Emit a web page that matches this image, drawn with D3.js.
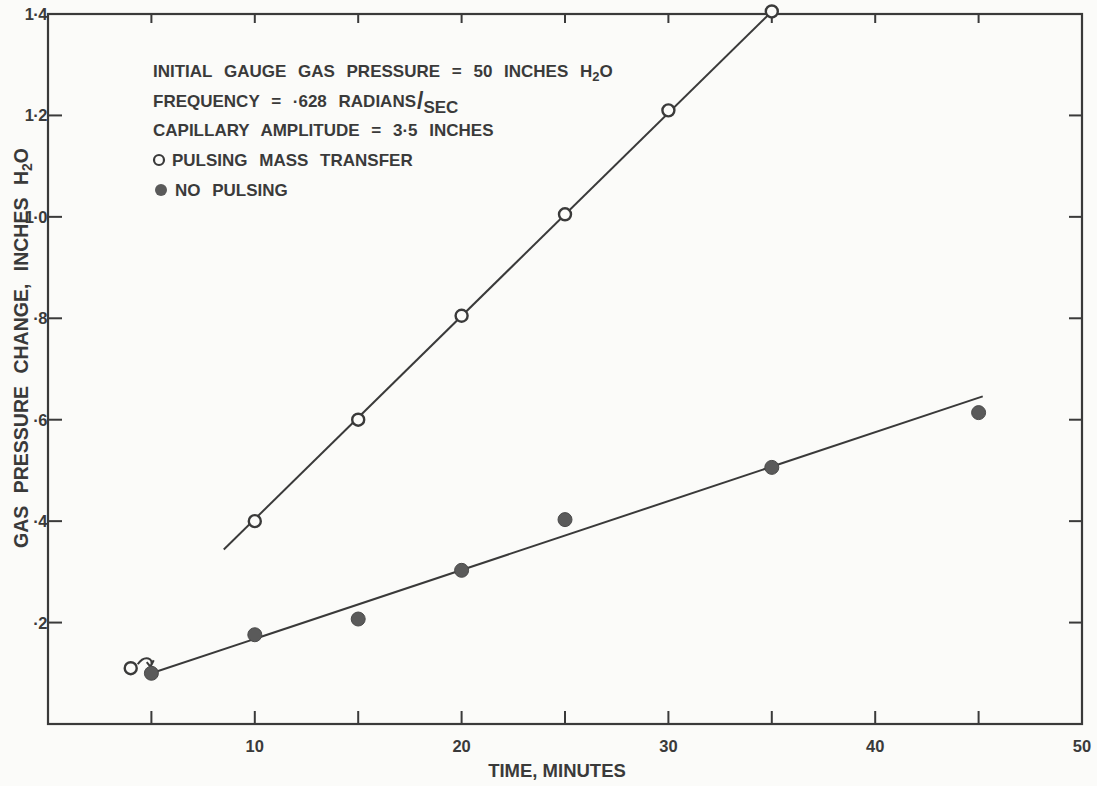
<!DOCTYPE html>
<html lang="en">
<head>
    <meta charset="UTF-8">
    <title>Gas pressure change vs time</title>
    <script src="https://d3js.org/d3.v7.min.js"></script>
    <style>
        body { margin: 0; background: #fbfbf9; }
        svg { display: block; }
        text {
            font-family: "Liberation Sans", Arial, sans-serif;
            font-weight: bold;
            fill: #3a3a3a;
        }
        .frame { fill: none; stroke: #3a3a3a; stroke-width: 2.2px; }
        .tick { stroke: #3a3a3a; stroke-width: 2px; }
        .fit { fill: none; stroke: #3a3a3a; stroke-width: 2px; }
    </style>
</head>
<body>
<svg width="1097" height="786"></svg>
<script>
    // pulsing mass transfer (open circles)
    const pulseTime = [10, 15, 20, 25, 30, 35];
    const pulseDp = [0.40, 0.60, 0.805, 1.005, 1.21, 1.405];
    const pulseFit = [[8.5, 0.344], [35, 1.405]];
    // stray open point near start
    const strayPoint = [4.0, 0.11];

    // no pulsing (filled circles)
    const noPulseTime = [5, 10, 15, 20, 25, 35, 45];
    const noPulseDp = [0.10, 0.176, 0.207, 0.303, 0.403, 0.506, 0.614];
    const noPulseFit = [[5, 0.10], [45.2, 0.646]];

    const xTicks = [10, 20, 30, 40, 50];
    const xMinor = [5, 10, 15, 20, 25, 30, 35, 40, 45];
    const yTicks = [0.2, 0.4, 0.6, 0.8, 1.0, 1.2, 1.4];
    const yLabels = ["·2", "·4", "·6", "·8", "1·0", "1·2", "1·4"];

    const notes = [
        "INITIAL  GAUGE  GAS  PRESSURE = 50 INCHES  H",
        "FREQUENCY = ·628  RADIANS",
        "CAPILLARY  AMPLITUDE = 3·5  INCHES",
        "PULSING   MASS   TRANSFER",
        "NO  PULSING"
    ];

    const svg = d3.select("svg");
    const mLeft = 48, mRight = 1082, mTop = 14, mBottom = 724;

    const x = d3.scaleLinear().domain([0, 50]).range([mLeft, mRight]);
    const y = d3.scaleLinear().domain([0, 1.4]).range([mBottom, mTop]);

    // frame
    svg.append("rect").attr("class", "frame")
        .attr("x", mLeft).attr("y", mTop)
        .attr("width", mRight - mLeft).attr("height", mBottom - mTop);

    // bottom ticks (inward)
    svg.append("g").selectAll("line").data(xMinor).enter().append("line")
        .attr("class", "tick")
        .attr("x1", d => x(d)).attr("x2", d => x(d))
        .attr("y1", mBottom).attr("y2", mBottom - 13);
    // top ticks
    svg.append("g").selectAll("line").data(xMinor).enter().append("line")
        .attr("class", "tick")
        .attr("x1", d => x(d)).attr("x2", d => x(d))
        .attr("y1", mTop).attr("y2", mTop + 9);
    // left ticks
    svg.append("g").selectAll("line").data(yTicks.slice(0, 6)).enter().append("line")
        .attr("class", "tick")
        .attr("x1", mLeft).attr("x2", mLeft + 14)
        .attr("y1", d => y(d)).attr("y2", d => y(d));
    // right ticks
    svg.append("g").selectAll("line").data(yTicks.slice(0, 6)).enter().append("line")
        .attr("class", "tick")
        .attr("x1", mRight).attr("x2", mRight - 13)
        .attr("y1", d => y(d)).attr("y2", d => y(d));

    // tick labels
    svg.append("g").selectAll("text").data(xTicks).enter().append("text")
        .attr("x", d => x(d)).attr("y", mBottom + 28)
        .attr("text-anchor", "middle").attr("font-size", 16.5)
        .text(d => d);
    svg.append("g").selectAll("text").data(yTicks).enter().append("text")
        .attr("x", mLeft - 1).attr("y", d => y(d) + 6)
        .attr("text-anchor", "end").attr("font-size", 16.5)
        .attr("letter-spacing", "-0.5")
        .text((d, i) => yLabels[i]);

    // axis titles
    svg.append("text")
        .attr("x", 557).attr("y", 777)
        .attr("text-anchor", "middle").attr("font-size", 18.5)
        .text("TIME, MINUTES");

    const yt = svg.append("text")
        .attr("transform", "translate(28,348) rotate(-90)")
        .attr("text-anchor", "middle").attr("font-size", 19.5)
        .attr("word-spacing", "7");
    yt.append("tspan").text("GAS PRESSURE CHANGE, INCHES H");
    yt.append("tspan").attr("font-size", 14).attr("dy", 4).text("2");
    yt.append("tspan").attr("dy", -4).text("O");

    // fitted lines
    const line = d3.line().x(d => x(d[0])).y(d => y(d[1]));
    svg.append("path").attr("class", "fit").attr("d", line(pulseFit));
    svg.append("path").attr("class", "fit").attr("d", line(noPulseFit));

    // hand-drawn squiggle near the stray point
    const sx = x(strayPoint[0]), sy = y(strayPoint[1]);
    svg.append("path")
        .attr("fill", "none").attr("stroke", "#3a3a3a").attr("stroke-width", 2)
        .attr("d", `M${sx + 7},${sy - 4}
                    C${sx + 14},${sy - 14} ${sx + 24},${sy - 10} ${sx + 20},${sy - 2}
                    M${sx + 16},${sy - 6} L${sx + 24},${sy + 4}
                    M${sx + 23},${sy - 8} L${sx + 18},${sy + 2}`);

    // points
    const pulse = pulseTime.map((t, i) => [t, pulseDp[i]]);
    pulse.push(strayPoint);
    svg.append("g").selectAll("circle").data(pulse).enter().append("circle")
        .attr("cx", d => x(d[0])).attr("cy", d => y(d[1])).attr("r", 6)
        .attr("fill", "#fbfbf9").attr("stroke", "#3a3a3a").attr("stroke-width", 2.4);

    const noPulse = noPulseTime.map((t, i) => [t, noPulseDp[i]]);
    svg.append("g").selectAll("circle").data(noPulse).enter().append("circle")
        .attr("cx", d => x(d[0])).attr("cy", d => y(d[1])).attr("r", 7)
        .attr("fill", "#5a5a5a").attr("stroke", "#4a4a4a").attr("stroke-width", 1);

    // notes block
    const note = svg.append("g").attr("font-size", 17).attr("word-spacing", "7");
    const rowY = [77, 107, 136, 166, 196];
    const t0 = note.append("text").attr("x", 153).attr("y", rowY[0]);
    t0.append("tspan").text(notes[0]);
    t0.append("tspan").attr("font-size", 13).attr("dy", 4).text("2");
    t0.append("tspan").attr("dy", -4).text("O");

    const t1 = note.append("text").attr("x", 153).attr("y", rowY[1]);
    t1.append("tspan").text(notes[1]);
    t1.append("tspan").attr("font-size", 23).attr("dy", 2).attr("dx", 1).text("/");
    t1.append("tspan").attr("dy", 4).attr("dx", 0).text("SEC");

    note.append("text").attr("x", 153).attr("y", rowY[2]).text(notes[2]);

    note.append("circle").attr("cx", 159).attr("cy", rowY[3] - 6).attr("r", 5)
        .attr("fill", "none").attr("stroke", "#3a3a3a").attr("stroke-width", 2.2);
    note.append("text").attr("x", 172).attr("y", rowY[3]).text(notes[3]);

    note.append("circle").attr("cx", 161).attr("cy", rowY[4] - 6).attr("r", 6)
        .attr("fill", "#5a5a5a");
    note.append("text").attr("x", 175).attr("y", rowY[4]).text(notes[4]);
</script>
</body>
</html>
